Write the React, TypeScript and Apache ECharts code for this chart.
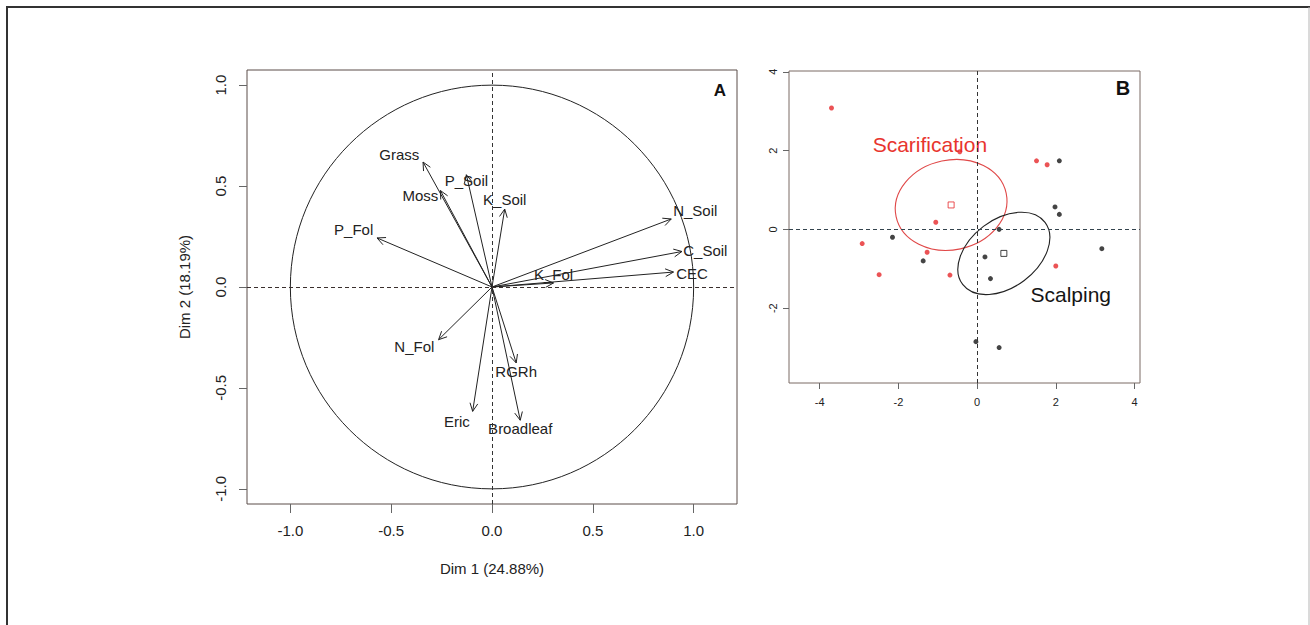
import React, { useEffect, useRef } from "react";
import * as echarts from "echarts";

// ---------- Panel A: PCA correlation circle ----------
const varNames = ["Grass", "Moss", "P_Soil", "K_Soil", "P_Fol", "N_Soil", "C_Soil", "CEC", "K_Fol", "N_Fol", "RGRh", "Eric", "Broadleaf"];
const dim1 = [-0.342, -0.256, -0.127, 0.063, -0.57, 0.889, 0.942, 0.9, 0.305, -0.265, 0.12, -0.096, 0.14];
const dim2 = [0.619, 0.478, 0.556, 0.386, 0.243, 0.337, 0.176, 0.074, 0.02, -0.261, -0.376, -0.616, -0.66];
const labelDim1 = [-0.46, -0.355, -0.127, 0.063, -0.686, 1.008, 1.058, 0.992, 0.305, -0.385, 0.12, -0.174, 0.14];
const labelDim2 = [0.658, 0.452, 0.526, 0.432, 0.284, 0.379, 0.181, 0.069, 0.061, -0.297, -0.418, -0.665, -0.703];
const pcaTicks = [-1, -0.5, 0, 0.5, 1];

// ---------- Panel B: individuals ----------
const scarX = [-3.7, 1.51, 1.78, -1.05, -2.92, -1.27, -2.49, -0.69, 2.0, -0.44];
const scarY = [3.08, 1.74, 1.64, 0.18, -0.36, -0.58, -1.15, -1.16, -0.93, 1.97];
const scalX = [2.09, 1.98, 2.09, 0.56, -2.15, -1.37, 0.2, 0.34, 3.17, -0.03, 0.56];
const scalY = [1.74, 0.57, 0.38, 0.0, -0.2, -0.8, -0.7, -1.25, -0.49, -2.85, -3.0];
const groupNames = ["Scarification", "Scalping"];
const groupCenterX = [-0.66, 0.68];
const groupCenterY = [0.62, -0.61];
const ellipseA = [1.43, 1.31];
const ellipseB = [1.14, 0.86];
const ellipseAngle = [12, 37];
const groupLabelX = [-1.2, 2.38];
const groupLabelY = [2.16, -1.65];
const indXTicks = [-4, -2, 0, 2, 4];
const indYTicks = [-2, 0, 2, 4];

const FONT = '"Liberation Sans", Arial, Helvetica, sans-serif';
const RED = "#e6282a";
const BLACK = "#151515";
const groupColors = [RED, BLACK];

export default function App() {
  const ref = useRef<HTMLDivElement>(null);
  useEffect(() => {
    document.body.style.margin = "0";
    const chart = echarts.init(ref.current!, null, { renderer: "svg" });

    const arrowData = varNames.map((_, i) => [dim1[i], dim2[i], labelDim1[i], labelDim2[i]]);

    const option: any = {
      animation: false,
      textStyle: { fontFamily: FONT },
      grid: [
        { left: 247, top: 70, width: 490, height: 434, show: true, borderColor: "#5b4d48", borderWidth: 1, backgroundColor: "transparent" },
        { left: 789, top: 71, width: 351, height: 312, show: true, borderColor: "#7a6a64", borderWidth: 1, backgroundColor: "transparent" },
      ],
      xAxis: [
        {
          gridIndex: 0, type: "value", min: -1.215, max: 1.215,
          axisLine: { show: false, onZero: false },
          axisTick: { show: true, inside: false, length: 9, customValues: pcaTicks, lineStyle: { color: "#666" } },
          axisLabel: { customValues: pcaTicks, formatter: (v: number) => v.toFixed(1), margin: 19, fontSize: 15, color: "#222", fontFamily: FONT },
          splitLine: { show: false },
          name: "Dim 1 (24.88%)", nameLocation: "middle", nameGap: 57,
          nameTextStyle: { fontSize: 15, color: "#222", fontFamily: FONT },
        },
        {
          gridIndex: 1, type: "value", min: -4.78, max: 4.14,
          axisLine: { show: false, onZero: false },
          axisTick: { show: true, inside: false, length: 6, customValues: indXTicks, lineStyle: { color: "#666" } },
          axisLabel: { customValues: indXTicks, formatter: (v: number) => String(v), margin: 13, fontSize: 11, color: "#222", fontFamily: FONT },
          splitLine: { show: false },
        },
      ],
      yAxis: [
        {
          gridIndex: 0, type: "value", min: -1.075, max: 1.075,
          axisLine: { show: false, onZero: false },
          axisTick: { show: true, inside: false, length: 8, customValues: pcaTicks, lineStyle: { color: "#666" } },
          axisLabel: { customValues: pcaTicks, formatter: (v: number) => v.toFixed(1), rotate: 90, margin: 19, fontSize: 15, color: "#222", fontFamily: FONT },
          splitLine: { show: false },
          name: "Dim 2 (18.19%)", nameLocation: "middle", nameGap: 55,
          nameTextStyle: { fontSize: 15, color: "#222", fontFamily: FONT },
        },
        {
          gridIndex: 1, type: "value", min: -3.9, max: 4.02,
          axisLine: { show: false, onZero: false },
          axisTick: { show: true, inside: false, length: 6, customValues: indYTicks, lineStyle: { color: "#666" } },
          axisLabel: { customValues: indYTicks, formatter: (v: number) => String(v), rotate: 90, margin: 11, fontSize: 11, color: "#222", fontFamily: FONT },
          splitLine: { show: false },
        },
      ],
      series: [
        // unit circle
        {
          type: "custom", xAxisIndex: 0, yAxisIndex: 0, data: [[0, 0, 1]], silent: true,
          renderItem: (params: any, api: any) => {
            const c = api.coord([api.value(0), api.value(1)]);
            const s = api.size([api.value(2), api.value(2)]);
            return { type: "ellipse", shape: { cx: c[0], cy: c[1], rx: s[0], ry: s[1] }, style: { fill: "none", stroke: "#222", lineWidth: 1 } };
          },
          markLine: {
            silent: true, symbol: "none", label: { show: false },
            lineStyle: { type: [4, 3], color: "#333", width: 1 },
            data: [{ xAxis: 0 }, { yAxis: 0, lineStyle: { color: "#3a2f2d", type: [4, 3] } }],
          },
        },
        // arrows with labels
        {
          type: "custom", xAxisIndex: 0, yAxisIndex: 0, data: arrowData, silent: true,
          renderItem: (params: any, api: any) => {
            const o = api.coord([0, 0]);
            const e = api.coord([api.value(0), api.value(1)]);
            const ang = Math.atan2(e[1] - o[1], e[0] - o[0]);
            const L = 9, h = Math.PI / 7;
            const p1 = [e[0] - L * Math.cos(ang - h), e[1] - L * Math.sin(ang - h)];
            const p2 = [e[0] - L * Math.cos(ang + h), e[1] - L * Math.sin(ang + h)];
            const lp = api.coord([api.value(2), api.value(3)]);
            return {
              type: "group",
              children: [
                { type: "line", shape: { x1: o[0], y1: o[1], x2: e[0], y2: e[1] }, style: { stroke: "#222", lineWidth: 1 } },
                { type: "polyline", shape: { points: [p1, e, p2] }, style: { stroke: "#222", fill: "none", lineWidth: 1 } },
                {
                  type: "text", x: lp[0], y: lp[1],
                  style: { text: varNames[params.dataIndex], fill: "#222", fontSize: 15, fontFamily: FONT, align: "center", verticalAlign: "middle" },
                },
              ],
            };
          },
        },
        // confidence ellipses
        {
          type: "custom", xAxisIndex: 1, yAxisIndex: 1, silent: true,
          data: groupNames.map((_, i) => [groupCenterX[i], groupCenterY[i], ellipseA[i], ellipseB[i], ellipseAngle[i]]),
          renderItem: (params: any, api: any) => {
            const c = api.coord([api.value(0), api.value(1)]);
            const s = api.size([api.value(2), api.value(3)]);
            return {
              type: "ellipse", x: c[0], y: c[1], rotation: (api.value(4) * Math.PI) / 180,
              shape: { cx: 0, cy: 0, rx: s[0], ry: s[1] },
              style: { fill: "none", stroke: params.dataIndex === 0 ? "#e04848" : "#222", lineWidth: 1.1 },
            };
          },
          markLine: {
            silent: true, symbol: "none", label: { show: false },
            lineStyle: { type: [4, 3], color: "#333", width: 1 },
            data: [{ xAxis: 0 }, { yAxis: 0, lineStyle: { color: "#34444e", type: [4, 3] } }],
          },
        },
        // group labels
        {
          type: "custom", xAxisIndex: 1, yAxisIndex: 1, silent: true,
          data: groupNames.map((_, i) => [groupLabelX[i], groupLabelY[i]]),
          renderItem: (params: any, api: any) => {
            const p = api.coord([api.value(0), api.value(1)]);
            return {
              type: "text", x: p[0], y: p[1],
              style: { text: groupNames[params.dataIndex], fill: params.dataIndex === 0 ? "#e8342e" : BLACK, fontSize: 21, fontFamily: FONT, align: "center", verticalAlign: "middle" },
            };
          },
        },
        {
          name: "Scarification", type: "scatter", xAxisIndex: 1, yAxisIndex: 1, symbol: "circle", symbolSize: 5,
          itemStyle: { color: RED }, data: scarX.map((x, i) => [x, scarY[i]]), silent: true,
        },
        {
          name: "Scalping", type: "scatter", xAxisIndex: 1, yAxisIndex: 1, symbol: "circle", symbolSize: 5,
          itemStyle: { color: BLACK }, data: scalX.map((x, i) => [x, scalY[i]]), silent: true,
        },
        {
          name: "centroids", type: "scatter", xAxisIndex: 1, yAxisIndex: 1, symbol: "rect", symbolSize: 6, silent: true,
          data: groupNames.map((_, i) => ({
            value: [groupCenterX[i], groupCenterY[i]],
            itemStyle: { color: "#fff", borderColor: groupColors[i], borderWidth: 1 },
          })),
        },
      ],
      graphic: [
        { type: "line", shape: { x1: 7, y1: 6, x2: 7, y2: 625 }, style: { stroke: "#333", lineWidth: 2 } },
        { type: "line", shape: { x1: 6, y1: 7, x2: 1310, y2: 7 }, style: { stroke: "#333", lineWidth: 2 } },
        { type: "line", shape: { x1: 1309, y1: 7, x2: 1309, y2: 625 }, style: { stroke: "#b5b5b5", lineWidth: 1 } },
        { type: "text", x: 720, y: 90, style: { text: "A", fill: "#111", fontSize: 17, fontWeight: "bold", fontFamily: FONT, align: "center", verticalAlign: "middle" } },
        { type: "text", x: 1123, y: 88, style: { text: "B", fill: "#111", fontSize: 20, fontWeight: "bold", fontFamily: FONT, align: "center", verticalAlign: "middle" } },
      ],
    };
    chart.setOption(option);
    return () => chart.dispose();
  }, []);
  return <div ref={ref} style={{ width: 1310, height: 625, background: "#fff" }} />;
}
